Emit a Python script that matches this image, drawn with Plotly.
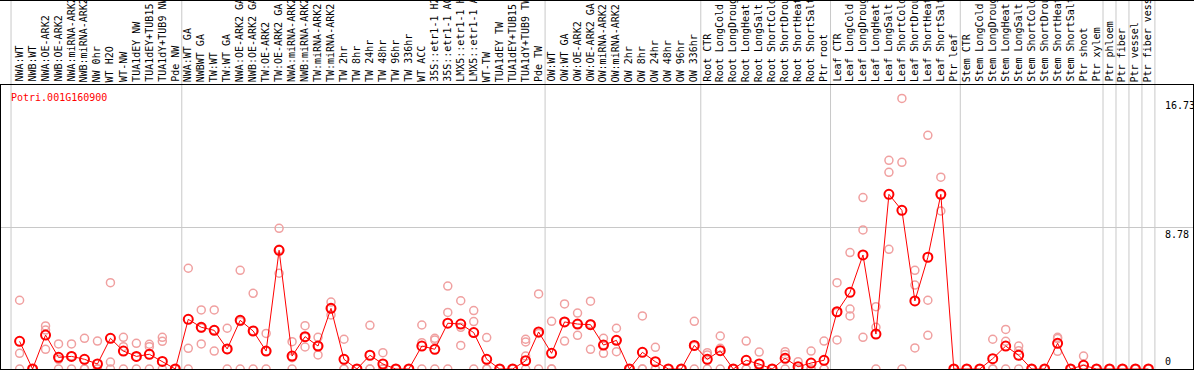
import plotly.graph_objects as go

# ---------------- data ----------------
gene_id = "Potri.001G160900"

categories = [
    "NWA:WT", "NWB:WT", "NWA:OE-ARK2", "NWB:OE-ARK2", "NWA:miRNA-ARK2", "NWB:miRNA-ARK2",
    "NW 0hr", "WT H2O", "WT-NW", "TUA1dEY NW", "TUA1dEY+TUB15 NW", "TUA1dY+TUB9 NW", "Pde NW",
    "NWA:WT GA", "NWBWT GA", "TW:WT", "TW:WT GA", "NWA:OE-ARK2 GA", "NWB:OE-ARK2 GA",
    "TW:OE-ARK2", "TW:OE-ARK2 GA", "NWA:miRNA-ARK2 GA", "NWB:miRNA-ARK2 GA", "TW:miRNA-ARK2",
    "TW:miRNA-ARK2 GA", "TW 2hr", "TW 8hr", "TW 24hr", "TW 48hr", "TW 96hr", "TW 336hr",
    "WT ACC", "35S::etr1-1 H2O", "35S::etr1-1 ACC", "LMX5::etr1-1 H2O", "LMX5::etr1-1 ACC",
    "WT-TW", "TUA1dEY TW", "TUA1dEY+TUB15 TW", "TUA1dY+TUB9 TW", "Pde TW",
    "OW:WT", "OW:WT GA", "OW:OE-ARK2", "OW:OE-ARK2 GA", "OW:miRNA-ARK2", "OW:miRNA-ARK2 GA",
    "OW 2hr", "OW 8hr", "OW 24hr", "OW 48hr", "OW 96hr", "OW 336hr",
    "Root CTR", "Root LongCold", "Root LongDrought", "Root LongHeat", "Root LongSalt",
    "Root ShortCold", "Root ShortDrought", "Root ShortHeat", "Root ShortSalt", "Ptr root",
    "Leaf CTR", "Leaf LongCold", "Leaf LongDrought", "Leaf LongHeat", "Leaf LongSalt",
    "Leaf ShortCold", "Leaf ShortDrought", "Leaf ShortHeat", "Leaf ShortSalt", "Ptr leaf",
    "Stem CTR", "Stem LongCold", "Stem LongDrought", "Stem LongHeat", "Stem LongSalt",
    "Stem ShortCold", "Stem ShortDrought", "Stem ShortHeat", "Stem ShortSalt", "Ptr shoot",
    "Ptr xylem", "Ptr phloem", "Ptr fiber", "Ptr vessel", "Ptr fiber vessel",
]

group_sizes = [13, 28, 12, 10, 10, 11, 1, 1, 1, 1]

means = [
    1.71, 0, 2.10, 0.72, 0.78, 0.60, 0.31, 1.90, 1.11, 0.78, 0.91, 0.47, 0,
    3.07, 2.58, 2.39, 1.24, 3.01, 2.35, 1.11, 7.34, 0.80, 2.00, 1.42, 3.75, 0.60, 0,
    0.85, 0.31, 0, 0, 1.42, 1.22, 2.83, 2.78, 2.25, 0.60, 0, 0, 0.51, 2.29,
    0.97, 2.91, 2.78, 2.74, 1.48, 1.77, 0, 1.03, 0.45, 0, 0, 1.46,
    0.60, 1.13, 0, 0.54, 0.31, 0, 0.66, 0.14, 0.37, 0.54,
    3.54, 4.74, 7.05, 2.16, 10.80, 9.81, 4.21, 6.91, 10.80, 0,
    0, 0, 0.64, 1.42, 0.85, 0, 0, 1.59, 0, 0.23, 0,
    0, 0, 0, 0,
]

replicates = [
    [4.25, 0.97, 0], [0, 0, 0], [2.66, 2.41, 1.22], [1.55, 0.6, 0], [1.55, 0.8, 0],
    [1.90, 0, 0], [1.73, 0, 0], [5.34, 0.43, 0], [1.96, 1.38, 0], [1.59, 0.75, 0],
    [1.53, 1.38, 0], [1.96, 1.71, 0], [0, 0, 0],
    [6.23, 1.28, 0], [3.65, 2.54, 1.55], [3.65, 2.41, 1.11], [2.52, 1.2, 0], [6.10, 2.93, 0],
    [4.68, 2.37, 0], [2.2, 1.1, 0], [8.70, 7.4, 5.92], [1.69, 0.7, 0], [2.68, 1.96, 1.36],
    [1.96, 1.42, 0.87], [4.14, 3.75, 3.34], [1.84, 0, 0], [0, 0, 0], [2.70, 0, 0],
    [1.01, 0, 0], [0, 0, 0], [0, 0, 0], [2.72, 1.63, 0], [1.90, 1.8, 0], [5.13, 3.5, 0],
    [4.22, 2.58, 1.46], [3.61, 2.93, 0], [1.94, 0, 0], [0, 0, 0], [0, 0, 0],
    [1.84, 1.67, 0.80, 0], [4.64, 2.2, 0],
    [2.95, 0, 0], [4.02, 2.91, 1.73], [3.46, 2.78, 2.08], [4.19, 2.8, 1.22],
    [1.90, 1.5, 0.97], [2.52, 1.77, 1.07], [0, 0, 0], [3.28, 0, 0], [1.34, 0, 0],
    [0, 0, 0], [0, 0, 0], [2.95, 1.4, 0],
    [1.01, 0.87, 0], [2.04, 1.28, 0], [0, 0, 0], [1.73, 0, 0], [1.05, 0, 0],
    [0, 0, 0], [1.07, 0.9, 0], [0.45, 0, 0], [1.11, 0, 0], [1.73, 0, 0],
    [5.34, 3.5, 1.8], [7.2, 3.71, 3.28], [10.6, 8.6, 1.96], [3.85, 2.58, 0],
    [12.9, 12.16, 7.40], [16.73, 12.78, 0], [6.10, 5.19, 1.30], [14.45, 4.25, 2.08],
    [11.86, 10.77, 9.77], [0, 0, 0],
    [0, 0, 0], [0, 0, 0], [1.84, 0, 0], [2.45, 1.71, 0], [1.42, 1.13, 0],
    [0, 0, 0], [0, 0, 0], [1.96, 1.88, 1.09], [0, 0, 0], [0.80, 0, 0], [0, 0, 0],
    [0, 0, 0], [0, 0, 0], [0, 0, 0], [0, 0, 0],
]

y_tick_values = [16.73, 8.78, 0]
y_tick_labels = ["16.73", "8.78", "0"]

# ---------------- layout geometry ----------------
W, H = 1194, 370
ML, MR, MT, MB = 1, 1, 85, 1
plot_w = W - ML - MR
plot_h = H - MT - MB
x0_px, step_px = 19.6, 12.975
x_lo = (ML - x0_px) / step_px
x_hi = (W - MR - x0_px) / step_px
y_top = 2 * y_tick_values[1]

mono = "DejaVu Sans Mono"

x_idx = list(range(len(categories)))
rep_x, rep_y = [], []
for i, reps in enumerate(replicates):
    for v in reps:
        rep_x.append(i)
        rep_y.append(v)

fig = go.Figure()
fig.add_trace(go.Scatter(
    x=rep_x, y=rep_y, mode="markers", hoverinfo="skip",
    marker=dict(symbol="circle-open", size=8, color="#f0a0a0", line=dict(width=1.5)),
))
fig.add_trace(go.Scatter(
    x=x_idx, y=means, mode="lines+markers",
    line=dict(color="#ff0000", width=1),
    marker=dict(symbol="circle-open", size=9, color="#ff0000", line=dict(width=2)),
))

# separators between groups
shapes = []
sep_positions = [-0.66]
acc = 0
for g in group_sizes:
    acc += g
    sep_positions.append(acc - 0.5)
y_full = (H - MB) / plot_h
for s in sep_positions:
    shapes.append(dict(type="line", xref="x", yref="paper", x0=s, x1=s, y0=0, y1=y_full,
                       line=dict(color="#c8c8c8", width=1), layer="below"))

# top border of the label band
shapes.append(dict(type="line", xref="paper", yref="paper",
                   x0=-ML / plot_w, x1=1 + MR / plot_w,
                   y0=(H - MB - 0.5) / plot_h, y1=(H - MB - 0.5) / plot_h,
                   line=dict(color="black", width=1)))

annotations = []
label_y = (H - MB - 83 - MB) / plot_h
for i, cat in enumerate(categories):
    annotations.append(dict(
        x=i, y=label_y, xref="x", yref="paper", text=cat, textangle=-90,
        xanchor="center", yanchor="bottom", showarrow=False,
        font=dict(family=mono, size=10, color="black"),
    ))

annotations.append(dict(
    x=(9 - ML) / plot_w, y=(H - MB - 97) / plot_h, xref="paper", yref="paper",
    text=gene_id, xanchor="left", yanchor="middle", showarrow=False,
    font=dict(family=mono, size=10, color="#ff0000"),
))

for v, t in zip(y_tick_values, y_tick_labels):
    annotations.append(dict(
        x=(1163 - ML) / plot_w, y=v, xref="paper", yref="y", text=t,
        xanchor="left", yanchor="bottom" if v == 0 else "top", showarrow=False,
        font=dict(family=mono, size=10, color="black"),
    ))

fig.update_layout(
    width=W, height=H,
    margin=dict(l=ML, r=MR, t=MT, b=MB, pad=0),
    paper_bgcolor="white", plot_bgcolor="white",
    showlegend=False,
    shapes=shapes, annotations=annotations,
    xaxis=dict(range=[x_lo, x_hi], showgrid=False, zeroline=False, showticklabels=False,
               ticks="", showline=True, mirror=True, linecolor="black", linewidth=1),
    yaxis=dict(range=[0, y_top], tickvals=[y_tick_values[1]], showgrid=True,
               gridcolor="#c8c8c8", gridwidth=1, zeroline=False, showticklabels=False,
               ticks="", showline=True, mirror=True, linecolor="black", linewidth=1),
)

fig.write_html("out.html", config={"displayModeBar": False},
               post_script="document.body.style.margin='0';document.body.style.overflow='hidden';")
